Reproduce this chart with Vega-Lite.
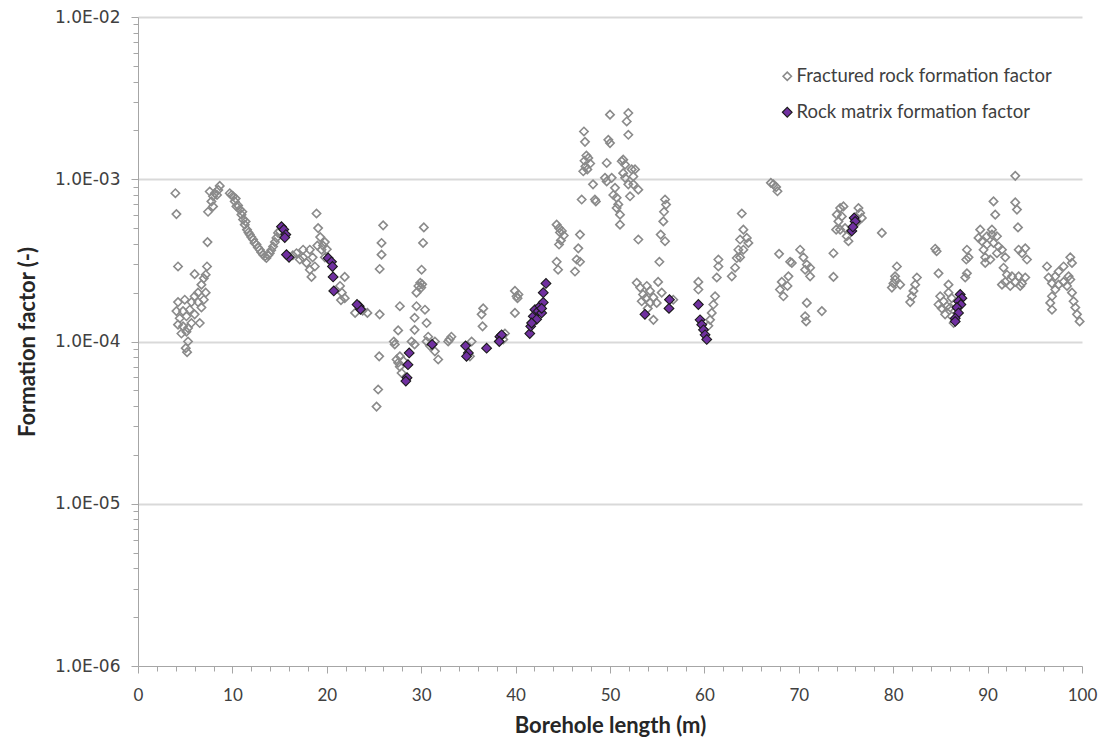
{
  "$schema": "https://vega.github.io/schema/vega-lite/v6.json",
  "autosize": {"type": "none"},
  "padding": {"left": 138, "top": 17, "right": 28, "bottom": 81},
  "width": 944,
  "height": 649,
  "background": "white",
  "config": {"view": {"stroke": null}},
  "data": {
    "values": [
      {"m":3.96,"f":8.2e-4,"s":"F"},{"m":4.07,"f":6.1e-4,"s":"F"},{"m":4.24,"f":2.9e-4,"s":"F"},{"m":7.36,"f":4.1e-4,"s":"F"},{"m":7.31,"f":2.9e-4,"s":"F"},
      {"m":6.0,"f":2.6e-4,"s":"F"},{"m":7.17,"f":2.58e-4,"s":"F"},{"m":6.97,"f":2.45e-4,"s":"F"},{"m":7.17,"f":2.0e-4,"s":"F"},{"m":6.36,"f":2.0e-4,"s":"F"},
      {"m":6.0,"f":1.9e-4,"s":"F"},{"m":6.72,"f":2.24e-4,"s":"F"},{"m":4.24,"f":1.75e-4,"s":"F"},{"m":4.95,"f":1.81e-4,"s":"F"},{"m":5.66,"f":1.75e-4,"s":"F"},
      {"m":6.36,"f":1.75e-4,"s":"F"},{"m":6.72,"f":1.62e-4,"s":"F"},{"m":4.07,"f":1.54e-4,"s":"F"},{"m":4.77,"f":1.54e-4,"s":"F"},{"m":5.48,"f":1.57e-4,"s":"F"},
      {"m":6.0,"f":1.47e-4,"s":"F"},{"m":4.42,"f":1.39e-4,"s":"F"},{"m":5.13,"f":1.43e-4,"s":"F"},{"m":6.54,"f":1.3e-4,"s":"F"},{"m":4.24,"f":1.27e-4,"s":"F"},
      {"m":4.77,"f":1.24e-4,"s":"F"},{"m":5.3,"f":1.21e-4,"s":"F"},{"m":5.66,"f":1.3e-4,"s":"F"},{"m":4.6,"f":1.12e-4,"s":"F"},{"m":5.13,"f":1.15e-4,"s":"F"},
      {"m":5.3,"f":1.0e-4,"s":"F"},{"m":5.06,"f":9.1e-5,"s":"F"},{"m":5.2,"f":8.6e-5,"s":"F"},{"m":6.97,"f":1.81e-4,"s":"F"},
      {"m":7.6,"f":8.4e-4,"s":"F"},{"m":8.13,"f":8.2e-4,"s":"F"},{"m":8.66,"f":9.1e-4,"s":"F"},{"m":7.95,"f":7.85e-4,"s":"F"},{"m":8.37,"f":8.0e-4,"s":"F"},
      {"m":7.42,"f":6.3e-4,"s":"F"},{"m":7.95,"f":6.8e-4,"s":"F"},{"m":7.78,"f":7.3e-4,"s":"F"},{"m":8.5,"f":8.6e-4,"s":"F"},
      {"m":9.72,"f":8.2e-4,"s":"F"},{"m":9.9,"f":8.0e-4,"s":"F"},{"m":10.07,"f":7.85e-4,"s":"F"},{"m":10.25,"f":7.3e-4,"s":"F"},{"m":10.35,"f":7.6e-4,"s":"F"},
      {"m":10.43,"f":6.8e-4,"s":"F"},{"m":10.6,"f":6.9e-4,"s":"F"},{"m":10.78,"f":6.5e-4,"s":"F"},{"m":10.96,"f":6.05e-4,"s":"F"},{"m":11.05,"f":6.3e-4,"s":"F"},
      {"m":11.13,"f":5.64e-4,"s":"F"},{"m":11.31,"f":5.25e-4,"s":"F"},{"m":11.4,"f":5.5e-4,"s":"F"},{"m":11.55,"f":4.89e-4,"s":"F"},{"m":11.7,"f":4.7e-4,"s":"F"},
      {"m":11.84,"f":4.56e-4,"s":"F"},{"m":12.0,"f":4.4e-4,"s":"F"},{"m":12.19,"f":4.25e-4,"s":"F"},{"m":12.35,"f":4.05e-4,"s":"F"},{"m":12.55,"f":3.96e-4,"s":"F"},
      {"m":12.7,"f":3.8e-4,"s":"F"},{"m":12.9,"f":3.68e-4,"s":"F"},{"m":13.05,"f":3.55e-4,"s":"F"},{"m":13.25,"f":3.43e-4,"s":"F"},{"m":13.45,"f":3.35e-4,"s":"F"},
      {"m":13.6,"f":3.27e-4,"s":"F"},{"m":13.8,"f":3.4e-4,"s":"F"},{"m":13.96,"f":3.5e-4,"s":"F"},{"m":14.1,"f":3.65e-4,"s":"F"},{"m":14.31,"f":3.85e-4,"s":"F"},
      {"m":14.5,"f":4.1e-4,"s":"F"},{"m":14.67,"f":4.35e-4,"s":"F"},{"m":14.84,"f":4.67e-4,"s":"F"},{"m":15.0,"f":4.8e-4,"s":"F"},
      {"m":16.79,"f":3.5e-4,"s":"F"},{"m":17.14,"f":3.2e-4,"s":"F"},{"m":17.49,"f":3.3e-4,"s":"F"},{"m":17.85,"f":3.05e-4,"s":"F"},{"m":18.2,"f":2.77e-4,"s":"F"},
      {"m":18.38,"f":2.5e-4,"s":"F"},{"m":18.73,"f":2.9e-4,"s":"F"},{"m":19.44,"f":3.68e-4,"s":"F"},{"m":19.79,"f":4.1e-4,"s":"F"},{"m":18.91,"f":6.15e-4,"s":"F"},
      {"m":19.08,"f":5.0e-4,"s":"F"},{"m":18.2,"f":3.68e-4,"s":"F"},{"m":17.49,"f":3.68e-4,"s":"F"},{"m":16.4,"f":3.4e-4,"s":"F"},{"m":18.5,"f":3.3e-4,"s":"F"},
      {"m":19.0,"f":3.9e-4,"s":"F"},{"m":19.3,"f":4.4e-4,"s":"F"},{"m":19.6,"f":3.9e-4,"s":"F"},{"m":20.0,"f":3.7e-4,"s":"F"},{"m":19.8,"f":3.3e-4,"s":"F"},
      {"m":21.9,"f":2.5e-4,"s":"F"},{"m":21.4,"f":2.2e-4,"s":"F"},{"m":21.6,"f":2.0e-4,"s":"F"},{"m":21.9,"f":1.85e-4,"s":"F"},{"m":21.5,"f":1.8e-4,"s":"F"},
      {"m":23.0,"f":1.5e-4,"s":"F"},{"m":23.8,"f":1.55e-4,"s":"F"},{"m":24.3,"f":1.5e-4,"s":"F"},{"m":25.6,"f":1.47e-4,"s":"F"},{"m":25.97,"f":5.2e-4,"s":"F"},
      {"m":25.8,"f":4.05e-4,"s":"F"},{"m":25.8,"f":3.43e-4,"s":"F"},{"m":25.6,"f":2.8e-4,"s":"F"},{"m":25.55,"f":8.1e-5,"s":"F"},{"m":25.44,"f":5.06e-5,"s":"F"},
      {"m":25.27,"f":3.97e-5,"s":"F"},{"m":27.74,"f":1.65e-4,"s":"F"},{"m":27.56,"f":1.17e-4,"s":"F"},{"m":27.1,"f":1.0e-4,"s":"F"},{"m":27.2,"f":9.6e-5,"s":"F"},
      {"m":27.39,"f":7.75e-5,"s":"F"},{"m":27.56,"f":7.4e-5,"s":"F"},{"m":27.74,"f":7.0e-5,"s":"F"},{"m":27.92,"f":6.4e-5,"s":"F"},{"m":27.74,"f":8.1e-5,"s":"F"},
      {"m":28.1,"f":7.6e-5,"s":"F"},{"m":28.98,"f":1.0e-4,"s":"F"},{"m":29.3,"f":9.6e-5,"s":"F"},{"m":29.3,"f":1.4e-4,"s":"F"},{"m":29.5,"f":1.65e-4,"s":"F"},
      {"m":30.4,"f":1.57e-4,"s":"F"},{"m":30.57,"f":1.3e-4,"s":"F"},{"m":29.3,"f":1.18e-4,"s":"F"},{"m":29.5,"f":2.0e-4,"s":"F"},{"m":29.7,"f":2.2e-4,"s":"F"},
      {"m":29.9,"f":2.3e-4,"s":"F"},{"m":30.1,"f":2.25e-4,"s":"F"},{"m":30.0,"f":2.15e-4,"s":"F"},{"m":30.04,"f":2.77e-4,"s":"F"},{"m":30.2,"f":4.05e-4,"s":"F"},
      {"m":30.28,"f":5.05e-4,"s":"F"},{"m":30.74,"f":1.07e-4,"s":"F"},{"m":30.57,"f":1.0e-4,"s":"F"},{"m":30.92,"f":9.4e-5,"s":"F"},{"m":31.45,"f":8.7e-5,"s":"F"},
      {"m":31.8,"f":7.75e-5,"s":"F"},{"m":31.45,"f":1.0e-4,"s":"F"},{"m":32.86,"f":1.0e-4,"s":"F"},{"m":33.2,"f":1.07e-4,"s":"F"},{"m":33.0,"f":1.03e-4,"s":"F"},
      {"m":35.34,"f":1.0e-4,"s":"F"},{"m":35.16,"f":8.1e-5,"s":"F"},{"m":36.57,"f":1.6e-4,"s":"F"},{"m":36.4,"f":1.47e-4,"s":"F"},{"m":36.5,"f":1.24e-4,"s":"F"},
      {"m":38.87,"f":1.12e-4,"s":"F"},{"m":38.69,"f":1.03e-4,"s":"F"},{"m":39.93,"f":1.5e-4,"s":"F"},{"m":40.1,"f":1.9e-4,"s":"F"},{"m":39.93,"f":2.05e-4,"s":"F"},
      {"m":40.3,"f":1.95e-4,"s":"F"},{"m":40.2,"f":1.85e-4,"s":"F"},
      {"m":44.35,"f":5.25e-4,"s":"F"},{"m":44.7,"f":4.7e-4,"s":"F"},{"m":44.6,"f":5.0e-4,"s":"F"},{"m":44.9,"f":4.8e-4,"s":"F"},{"m":45.1,"f":4.5e-4,"s":"F"},
      {"m":44.8,"f":4.2e-4,"s":"F"},{"m":44.6,"f":3.96e-4,"s":"F"},{"m":44.35,"f":3.1e-4,"s":"F"},{"m":44.5,"f":2.77e-4,"s":"F"},{"m":46.29,"f":2.7e-4,"s":"F"},
      {"m":46.47,"f":3.2e-4,"s":"F"},{"m":46.64,"f":3.75e-4,"s":"F"},{"m":46.82,"f":4.56e-4,"s":"F"},{"m":46.82,"f":3.1e-4,"s":"F"},{"m":47.0,"f":7.5e-4,"s":"F"},
      {"m":47.17,"f":1.12e-3,"s":"F"},{"m":47.3,"f":1.3e-3,"s":"F"},{"m":47.5,"f":1.4e-3,"s":"F"},{"m":47.7,"f":1.35e-3,"s":"F"},{"m":47.4,"f":1.2e-3,"s":"F"},
      {"m":47.9,"f":1.25e-3,"s":"F"},{"m":47.6,"f":1.15e-3,"s":"F"},{"m":47.35,"f":1.7e-3,"s":"F"},{"m":47.24,"f":1.97e-3,"s":"F"},{"m":48.2,"f":9.3e-4,"s":"F"},
      {"m":48.4,"f":7.5e-4,"s":"F"},{"m":48.5,"f":7.3e-4,"s":"F"},{"m":49.65,"f":1.26e-3,"s":"F"},{"m":49.82,"f":1.75e-3,"s":"F"},{"m":50.0,"f":1.67e-3,"s":"F"},
      {"m":50.0,"f":2.5e-3,"s":"F"},{"m":49.47,"f":1.02e-3,"s":"F"},{"m":49.65,"f":9.7e-4,"s":"F"},{"m":50.18,"f":1.02e-3,"s":"F"},{"m":50.53,"f":8.85e-4,"s":"F"},
      {"m":50.35,"f":8.0e-4,"s":"F"},{"m":50.7,"f":7.7e-4,"s":"F"},{"m":50.88,"f":7.0e-4,"s":"F"},{"m":50.7,"f":6.65e-4,"s":"F"},{"m":51.06,"f":6.05e-4,"s":"F"},
      {"m":51.06,"f":5.25e-4,"s":"F"},{"m":51.24,"f":1.29e-3,"s":"F"},{"m":51.4,"f":1.32e-3,"s":"F"},{"m":51.6,"f":1.23e-3,"s":"F"},{"m":51.4,"f":1.09e-3,"s":"F"},
      {"m":51.6,"f":1.02e-3,"s":"F"},{"m":51.94,"f":2.56e-3,"s":"F"},{"m":51.77,"f":2.27e-3,"s":"F"},{"m":51.94,"f":1.88e-3,"s":"F"},{"m":52.3,"f":1.15e-3,"s":"F"},
      {"m":52.65,"f":1.15e-3,"s":"F"},{"m":52.47,"f":1.04e-3,"s":"F"},{"m":51.94,"f":9.3e-4,"s":"F"},{"m":52.47,"f":9.3e-4,"s":"F"},{"m":53.0,"f":8.63e-4,"s":"F"},
      {"m":52.12,"f":7.85e-4,"s":"F"},{"m":53.0,"f":4.25e-4,"s":"F"},{"m":52.83,"f":2.3e-4,"s":"F"},{"m":53.2,"f":2.15e-4,"s":"F"},{"m":53.5,"f":1.95e-4,"s":"F"},
      {"m":53.9,"f":2.2e-4,"s":"F"},{"m":54.24,"f":2.05e-4,"s":"F"},{"m":54.6,"f":1.87e-4,"s":"F"},{"m":54.95,"f":1.73e-4,"s":"F"},{"m":54.24,"f":1.73e-4,"s":"F"},
      {"m":54.6,"f":1.36e-4,"s":"F"},{"m":55.1,"f":2.33e-4,"s":"F"},{"m":55.48,"f":2.0e-4,"s":"F"},{"m":53.36,"f":1.77e-4,"s":"F"},{"m":55.83,"f":7.5e-4,"s":"F"},
      {"m":55.94,"f":6.98e-4,"s":"F"},{"m":55.72,"f":6.3e-4,"s":"F"},{"m":55.65,"f":5.5e-4,"s":"F"},{"m":55.37,"f":4.56e-4,"s":"F"},{"m":55.83,"f":4.15e-4,"s":"F"},
      {"m":55.23,"f":3.1e-4,"s":"F"},{"m":56.7,"f":1.81e-4,"s":"F"},{"m":59.36,"f":2.33e-4,"s":"F"},{"m":59.36,"f":2.09e-4,"s":"F"},{"m":54.0,"f":1.6e-4,"s":"F"},
      {"m":53.8,"f":1.85e-4,"s":"F"},
      {"m":61.13,"f":1.9e-4,"s":"F"},{"m":60.95,"f":1.69e-4,"s":"F"},{"m":60.78,"f":1.5e-4,"s":"F"},{"m":60.6,"f":1.36e-4,"s":"F"},{"m":60.42,"f":1.25e-4,"s":"F"},
      {"m":61.31,"f":2.48e-4,"s":"F"},{"m":61.48,"f":2.9e-4,"s":"F"},{"m":61.48,"f":3.2e-4,"s":"F"},{"m":62.9,"f":2.52e-4,"s":"F"},{"m":63.25,"f":2.85e-4,"s":"F"},
      {"m":63.43,"f":3.27e-4,"s":"F"},{"m":63.6,"f":3.68e-4,"s":"F"},{"m":63.78,"f":3.3e-4,"s":"F"},{"m":64.13,"f":3.68e-4,"s":"F"},{"m":63.78,"f":4.25e-4,"s":"F"},
      {"m":64.13,"f":4.89e-4,"s":"F"},{"m":63.96,"f":6.15e-4,"s":"F"},{"m":64.49,"f":4.35e-4,"s":"F"},{"m":64.66,"f":4.05e-4,"s":"F"},{"m":67.31,"f":9.3e-4,"s":"F"},
      {"m":67.04,"f":9.5e-4,"s":"F"},{"m":67.6,"f":8.95e-4,"s":"F"},{"m":67.74,"f":8.43e-4,"s":"F"},{"m":67.91,"f":3.47e-4,"s":"F"},{"m":68.2,"f":2.33e-4,"s":"F"},
      {"m":68.0,"f":2.09e-4,"s":"F"},{"m":68.37,"f":1.9e-4,"s":"F"},{"m":68.8,"f":2.2e-4,"s":"F"},{"m":68.9,"f":2.52e-4,"s":"F"},{"m":69.08,"f":3.1e-4,"s":"F"},
      {"m":69.26,"f":3.05e-4,"s":"F"},{"m":70.14,"f":3.68e-4,"s":"F"},{"m":70.49,"f":3.3e-4,"s":"F"},{"m":70.85,"f":2.98e-4,"s":"F"},{"m":70.67,"f":2.77e-4,"s":"F"},
      {"m":71.2,"f":2.85e-4,"s":"F"},{"m":71.2,"f":2.52e-4,"s":"F"},{"m":70.85,"f":1.73e-4,"s":"F"},{"m":70.67,"f":1.43e-4,"s":"F"},{"m":70.78,"f":1.33e-4,"s":"F"},
      {"m":72.44,"f":1.54e-4,"s":"F"},{"m":73.67,"f":3.5e-4,"s":"F"},{"m":73.67,"f":2.5e-4,"s":"F"},{"m":74.03,"f":6.05e-4,"s":"F"},{"m":74.38,"f":6.65e-4,"s":"F"},
      {"m":74.73,"f":6.8e-4,"s":"F"},{"m":74.56,"f":5.9e-4,"s":"F"},{"m":74.2,"f":5.5e-4,"s":"F"},{"m":73.96,"f":4.89e-4,"s":"F"},{"m":74.38,"f":4.89e-4,"s":"F"},
      {"m":74.9,"f":5.0e-4,"s":"F"},{"m":75.08,"f":4.45e-4,"s":"F"},{"m":75.26,"f":4.15e-4,"s":"F"},{"m":76.32,"f":6.65e-4,"s":"F"},{"m":76.5,"f":6.2e-4,"s":"F"},
      {"m":76.68,"f":5.78e-4,"s":"F"},{"m":76.14,"f":5.4e-4,"s":"F"},{"m":78.8,"f":4.67e-4,"s":"F"},{"m":80.39,"f":2.9e-4,"s":"F"},{"m":80.2,"f":2.52e-4,"s":"F"},
      {"m":80.03,"f":2.28e-4,"s":"F"},{"m":79.86,"f":2.15e-4,"s":"F"},
      {"m":80.2,"f":2.41e-4,"s":"F"},{"m":80.74,"f":2.24e-4,"s":"F"},{"m":82.51,"f":2.48e-4,"s":"F"},{"m":82.33,"f":2.24e-4,"s":"F"},{"m":82.15,"f":2.05e-4,"s":"F"},
      {"m":81.98,"f":1.9e-4,"s":"F"},{"m":81.8,"f":1.75e-4,"s":"F"},{"m":84.45,"f":3.73e-4,"s":"F"},{"m":84.6,"f":3.6e-4,"s":"F"},{"m":84.8,"f":2.63e-4,"s":"F"},
      {"m":85.86,"f":2.24e-4,"s":"F"},{"m":84.98,"f":1.9e-4,"s":"F"},{"m":85.33,"f":1.77e-4,"s":"F"},{"m":84.8,"f":1.69e-4,"s":"F"},{"m":85.69,"f":1.65e-4,"s":"F"},
      {"m":85.15,"f":1.6e-4,"s":"F"},{"m":86.04,"f":1.62e-4,"s":"F"},{"m":86.2,"f":1.85e-4,"s":"F"},{"m":85.86,"f":2.0e-4,"s":"F"},{"m":85.5,"f":1.47e-4,"s":"F"},
      {"m":86.2,"f":1.43e-4,"s":"F"},{"m":86.4,"f":1.3e-4,"s":"F"},{"m":87.81,"f":3.68e-4,"s":"F"},{"m":87.98,"f":3.3e-4,"s":"F"},{"m":87.74,"f":3.2e-4,"s":"F"},
      {"m":87.81,"f":2.63e-4,"s":"F"},{"m":87.63,"f":2.48e-4,"s":"F"},{"m":89.22,"f":4.89e-4,"s":"F"},{"m":89.04,"f":4.35e-4,"s":"F"},{"m":89.4,"f":4.15e-4,"s":"F"},
      {"m":89.93,"f":4.45e-4,"s":"F"},{"m":89.93,"f":3.96e-4,"s":"F"},{"m":89.57,"f":3.68e-4,"s":"F"},{"m":89.75,"f":3.3e-4,"s":"F"},{"m":90.46,"f":4.56e-4,"s":"F"},
      {"m":90.63,"f":4.05e-4,"s":"F"},{"m":90.99,"f":4.45e-4,"s":"F"},{"m":91.16,"f":3.85e-4,"s":"F"},{"m":91.52,"f":3.68e-4,"s":"F"},{"m":90.99,"f":3.5e-4,"s":"F"},
      {"m":91.87,"f":3.3e-4,"s":"F"},{"m":89.75,"f":3.05e-4,"s":"F"},{"m":90.28,"f":3.2e-4,"s":"F"},{"m":90.63,"f":7.3e-4,"s":"F"},{"m":90.81,"f":6.05e-4,"s":"F"},
      {"m":90.46,"f":4.89e-4,"s":"F"},{"m":92.93,"f":1.05e-3,"s":"F"},{"m":92.93,"f":7.2e-4,"s":"F"},{"m":93.11,"f":6.5e-4,"s":"F"},{"m":93.22,"f":5.05e-4,"s":"F"},
      {"m":93.29,"f":3.68e-4,"s":"F"},{"m":93.99,"f":3.75e-4,"s":"F"},{"m":94.17,"f":3.2e-4,"s":"F"},{"m":93.64,"f":3.5e-4,"s":"F"},{"m":91.69,"f":2.85e-4,"s":"F"},
      {"m":92.05,"f":2.58e-4,"s":"F"},{"m":91.87,"f":2.33e-4,"s":"F"},{"m":91.52,"f":2.24e-4,"s":"F"},{"m":92.4,"f":2.2e-4,"s":"F"},{"m":92.58,"f":2.52e-4,"s":"F"},
      {"m":92.93,"f":2.33e-4,"s":"F"},{"m":93.29,"f":2.52e-4,"s":"F"},{"m":93.64,"f":2.28e-4,"s":"F"},{"m":93.99,"f":2.48e-4,"s":"F"},{"m":93.46,"f":2.2e-4,"s":"F"},
      {"m":96.29,"f":2.9e-4,"s":"F"},{"m":96.46,"f":2.48e-4,"s":"F"},{"m":96.82,"f":2.28e-4,"s":"F"},{"m":97.17,"f":2.52e-4,"s":"F"},{"m":97.52,"f":2.7e-4,"s":"F"},
      {"m":98.05,"f":2.9e-4,"s":"F"},{"m":98.76,"f":3.3e-4,"s":"F"},{"m":98.94,"f":3.05e-4,"s":"F"},{"m":98.58,"f":2.52e-4,"s":"F"},{"m":98.05,"f":2.33e-4,"s":"F"},
      {"m":97.52,"f":2.24e-4,"s":"F"},{"m":97.17,"f":2.09e-4,"s":"F"},{"m":96.82,"f":1.9e-4,"s":"F"},{"m":96.64,"f":1.73e-4,"s":"F"},{"m":96.82,"f":1.57e-4,"s":"F"},
      {"m":98.41,"f":2.2e-4,"s":"F"},{"m":98.94,"f":2.0e-4,"s":"F"},{"m":99.11,"f":1.77e-4,"s":"F"},{"m":99.29,"f":1.62e-4,"s":"F"},{"m":99.47,"f":1.47e-4,"s":"F"},
      {"m":99.75,"f":1.33e-4,"s":"F"},{"m":98.76,"f":2.41e-4,"s":"F"},
      {"m":15.2,"f":5.1e-4,"s":"R"},{"m":15.44,"f":4.9e-4,"s":"R"},{"m":15.66,"f":4.56e-4,"s":"R"},{"m":15.55,"f":4.37e-4,"s":"R"},{"m":16.0,"f":3.3e-4,"s":"R"},
      {"m":15.73,"f":3.43e-4,"s":"R"},{"m":20.14,"f":3.27e-4,"s":"R"},{"m":20.5,"f":3.1e-4,"s":"R"},{"m":20.6,"f":2.9e-4,"s":"R"},{"m":20.67,"f":2.5e-4,"s":"R"},
      {"m":20.74,"f":2.05e-4,"s":"R"},{"m":23.43,"f":1.65e-4,"s":"R"},{"m":23.57,"f":1.58e-4,"s":"R"},{"m":23.2,"f":1.69e-4,"s":"R"},{"m":28.73,"f":8.5e-5,"s":"R"},
      {"m":28.6,"f":7.2e-5,"s":"R"},{"m":28.5,"f":5.98e-5,"s":"R"},{"m":28.37,"f":5.7e-5,"s":"R"},{"m":31.16,"f":9.6e-5,"s":"R"},{"m":34.7,"f":9.4e-5,"s":"R"},
      {"m":35.0,"f":8.5e-5,"s":"R"},{"m":34.8,"f":8.1e-5,"s":"R"},{"m":36.93,"f":9.1e-5,"s":"R"},{"m":38.34,"f":1.07e-4,"s":"R"},{"m":38.52,"f":1.1e-4,"s":"R"},
      {"m":38.27,"f":1.0e-4,"s":"R"},{"m":41.5,"f":1.12e-4,"s":"R"},{"m":41.6,"f":1.24e-4,"s":"R"},{"m":41.87,"f":1.43e-4,"s":"R"},{"m":42.05,"f":1.57e-4,"s":"R"},
      {"m":42.23,"f":1.37e-4,"s":"R"},{"m":42.4,"f":1.54e-4,"s":"R"},{"m":42.58,"f":1.65e-4,"s":"R"},{"m":42.76,"f":1.5e-4,"s":"R"},{"m":42.93,"f":1.74e-4,"s":"R"},
      {"m":42.93,"f":2.0e-4,"s":"R"},{"m":43.22,"f":2.28e-4,"s":"R"},{"m":41.7,"f":1.3e-4,"s":"R"},{"m":42.76,"f":1.6e-4,"s":"R"},{"m":53.7,"f":1.47e-4,"s":"R"},
      {"m":56.3,"f":1.81e-4,"s":"R"},{"m":56.25,"f":1.6e-4,"s":"R"},{"m":59.36,"f":1.69e-4,"s":"R"},{"m":59.54,"f":1.36e-4,"s":"R"},{"m":59.72,"f":1.27e-4,"s":"R"},
      {"m":59.9,"f":1.18e-4,"s":"R"},{"m":60.07,"f":1.1e-4,"s":"R"},{"m":60.25,"f":1.03e-4,"s":"R"},{"m":75.87,"f":5.78e-4,"s":"R"},{"m":75.97,"f":5.5e-4,"s":"R"},
      {"m":75.62,"f":4.8e-4,"s":"R"},{"m":75.73,"f":5.08e-4,"s":"R"},{"m":87.1,"f":1.95e-4,"s":"R"},{"m":87.28,"f":1.85e-4,"s":"R"},{"m":86.92,"f":1.77e-4,"s":"R"},
      {"m":87.17,"f":1.69e-4,"s":"R"},{"m":86.75,"f":1.62e-4,"s":"R"},{"m":86.92,"f":1.5e-4,"s":"R"},{"m":86.57,"f":1.39e-4,"s":"R"},{"m":86.57,"f":1.33e-4,"s":"R"}
    ]
  },
  "mark": {"type": "point", "shape": "diamond", "filled": true, "opacity": 1},
  "encoding": {
    "x": {
      "field": "m",
      "type": "quantitative",
      "title": "Borehole length (m)",
      "scale": {"domain": [0, 100], "nice": false, "zero": false},
      "axis": {
        "values": [0,2,4,6,8,10,12,14,16,18,20,22,24,26,28,30,32,34,36,38,40,42,44,46,48,50,52,54,56,58,60,62,64,66,68,70,72,74,76,78,80,82,84,86,88,90,92,94,96,98,100],
        "labelExpr": "datum.value % 10 == 0 ? datum.label : ''",
        "grid": false,
        "domainColor": "#a6a6a6",
        "domainWidth": 1,
        "tickColor": "#a6a6a6",
        "tickSize": {"condition": {"test": "datum.value % 10 == 0", "value": 7}, "value": 5},
        "labelFont": "Lato",
        "labelFontSize": 17,
        "labelColor": "#404040",
        "labelPadding": 14,
        "labelFlush": false,
        "titleFont": "Lato",
        "titleFontSize": 22,
        "titleFontWeight": "bold",
        "titleColor": "#262626",
        "titlePadding": 12
      }
    },
    "y": {
      "field": "f",
      "type": "quantitative",
      "title": "Formation factor (-)",
      "scale": {"type": "log", "domain": [1e-6, 1e-2], "nice": false},
      "axis": {
        "values": [1e-6,2e-6,3e-6,4e-6,5e-6,6e-6,7e-6,8e-6,9e-6,1e-5,2e-5,3e-5,4e-5,5e-5,6e-5,7e-5,8e-5,9e-5,1e-4,2e-4,3e-4,4e-4,5e-4,6e-4,7e-4,8e-4,9e-4,1e-3,2e-3,3e-3,4e-3,5e-3,6e-3,7e-3,8e-3,9e-3,1e-2],
        "labelExpr": "abs(log(datum.value)/LN10 - round(log(datum.value)/LN10)) < 0.001 ? '1.0E-0' + round(-log(datum.value)/LN10) : ''",
        "grid": true,
        "gridColor": "#d9d9d9",
        "gridWidth": 2,
        "gridOpacity": {"condition": {"test": "abs(log(datum.value)/LN10 - round(log(datum.value)/LN10)) < 0.001 && datum.value > 2e-6", "value": 1}, "value": 0},
        "domainColor": "#a6a6a6",
        "domainWidth": 1,
        "tickColor": "#a6a6a6",
        "tickSize": {"condition": {"test": "abs(log(datum.value)/LN10 - round(log(datum.value)/LN10)) < 0.001", "value": 7}, "value": 5},
        "labelFont": "DejaVu Sans",
        "labelFontSize": 17,
        "labelColor": "#404040",
        "labelPadding": 11,
        "labelFlush": false,
        "titleFont": "Lato",
        "titleFontSize": 22,
        "titleFontWeight": "bold",
        "titleColor": "#262626",
        "titlePadding": 15
      }
    },
    "fill": {
      "field": "s",
      "type": "nominal",
      "scale": {"domain": ["F", "R"], "range": ["rgba(255,255,255,0)", "#7030a0"]},
      "legend": {
        "title": null,
        "orient": "none",
        "legendX": 640,
        "legendY": 50,
        "padding": 0,
        "rowPadding": 17,
        "symbolType": "diamond",
        "labelOffset": 0,
        "labelFont": "Lato",
        "labelFontSize": 18.5,
        "labelColor": "#404040",
        "labelLimit": 400,
        "labelExpr": "datum.value == 'F' ? 'Fractured rock formation factor' : 'Rock matrix formation factor'"
      }
    },
    "stroke": {
      "field": "s",
      "type": "nominal",
      "scale": {"domain": ["F", "R"], "range": ["#8a8a8a", "#1a1a1a"]}
    },
    "size": {
      "field": "s",
      "type": "nominal",
      "scale": {"domain": ["F", "R"], "range": [70, 95]}
    },
    "strokeWidth": {
      "field": "s",
      "type": "nominal",
      "scale": {"domain": ["F", "R"], "range": [1.6, 1.1]}
    }
  }
}
